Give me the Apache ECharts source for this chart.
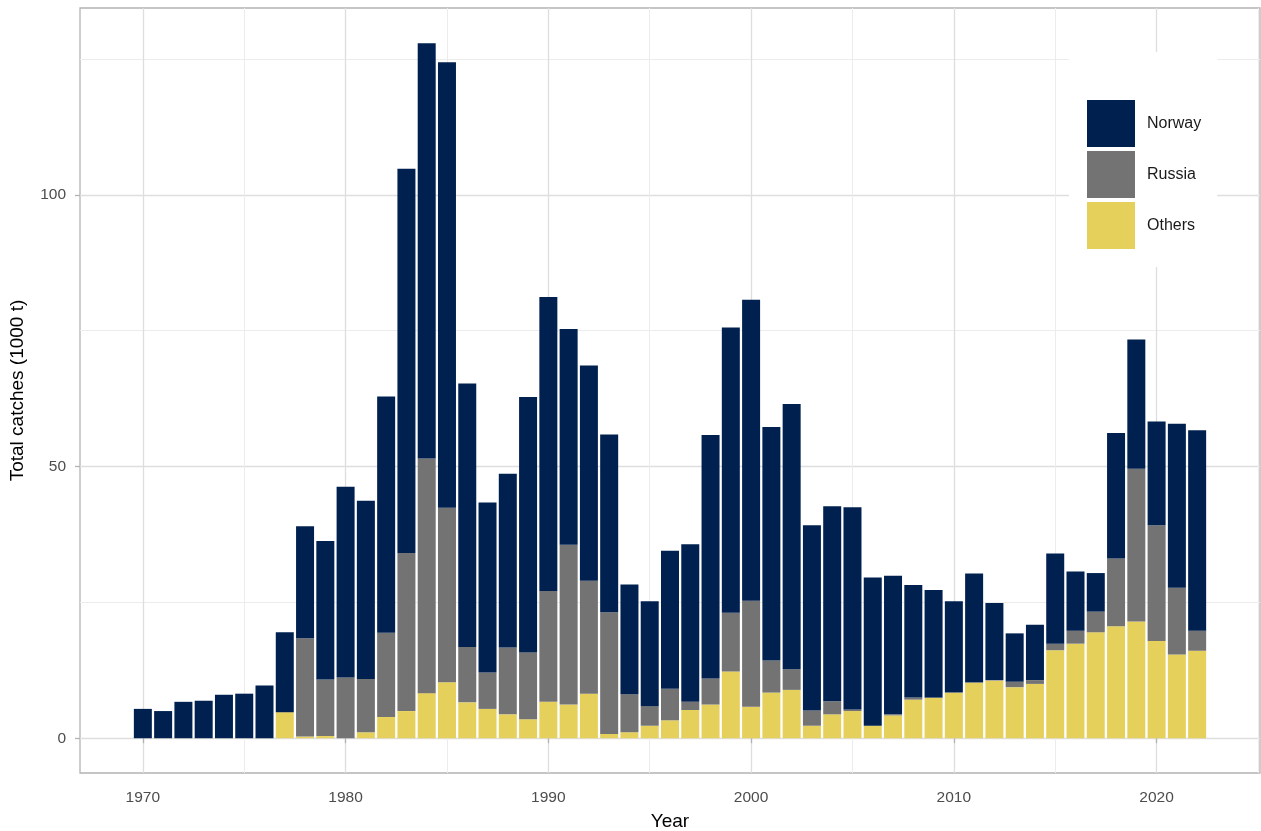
<!DOCTYPE html>
<html>
<head>
<meta charset="utf-8">
<script src="https://cdn.jsdelivr.net/npm/echarts@6/dist/echarts.min.js"></script>
<style>
  html, body { margin: 0; padding: 0; background: #fff; }
  #chart { width: 1261px; height: 831px; }
</style>
</head>
<body>
<div id="chart"></div>
<script>
const years = [1970, 1971, 1972, 1973, 1974, 1975, 1976, 1977, 1978, 1979,
  1980, 1981, 1982, 1983, 1984, 1985, 1986, 1987, 1988, 1989,
  1990, 1991, 1992, 1993, 1994, 1995, 1996, 1997, 1998, 1999,
  2000, 2001, 2002, 2003, 2004, 2005, 2006, 2007, 2008, 2009,
  2010, 2011, 2012, 2013, 2014, 2015, 2016, 2017, 2018, 2019,
  2020, 2021, 2022];

const norway = [5.4, 5.0, 6.7, 6.9, 8.0, 8.2, 9.7, 14.7, 20.6, 25.5,
  35.1, 32.8, 43.5, 70.7, 76.4, 82.0, 48.5, 31.3, 32.0, 47.0,
  54.1, 39.7, 39.6, 32.7, 20.2, 19.3, 25.4, 29.0, 44.8, 52.5,
  55.4, 43.0, 48.8, 34.1, 35.9, 37.2, 27.3, 25.5, 20.7, 19.8,
  16.8, 20.0, 14.2, 8.9, 10.2, 16.6, 10.9, 7.1, 23.1, 23.8,
  19.1, 30.2, 36.9];

const russia = [0, 0, 0, 0, 0, 0, 0, 0, 18.1, 10.4,
  11.2, 9.8, 15.5, 29.1, 43.2, 32.1, 10.2, 6.7, 12.3, 12.3,
  20.4, 29.4, 20.8, 22.4, 7.0, 3.6, 5.8, 1.5, 4.8, 10.8,
  19.5, 5.9, 3.8, 2.8, 2.4, 0.3, 0, 0.2, 0.4, 0.1,
  0, 0.1, 0.1, 1.0, 0.7, 1.2, 2.4, 3.8, 12.5, 28.1,
  21.3, 12.3, 3.7];

const others = [0, 0, 0, 0, 0, 0, 0, 4.8, 0.3, 0.4,
  0, 1.1, 3.9, 5.0, 8.3, 10.3, 6.6, 5.4, 4.4, 3.5,
  6.7, 6.2, 8.2, 0.8, 1.1, 2.3, 3.3, 5.2, 6.2, 12.3,
  5.8, 8.4, 8.9, 2.3, 4.4, 5.0, 2.3, 4.2, 7.1, 7.4,
  8.4, 10.2, 10.6, 9.4, 10.0, 16.2, 17.4, 19.5, 20.6, 21.5,
  17.9, 15.4, 16.1];

const xMajorTicks = [1970, 1980, 1990, 2000, 2010, 2020];
const xMinorTicks = [1975, 1985, 1995, 2005, 2015, 2025];
const yMajorTicks = [0, 50, 100];
const yMinorTicks = [25, 75, 125];

const FONT = 'Liberation Sans, Arial, sans-serif';
const colors = { Norway: '#00214f', Russia: '#737373', Others: '#e6d05c' };

// value first so the stack runs on the y dimension
const toPairs = (vals) => years.map((y, i) => [vals[i], y]);

const chart = echarts.init(document.getElementById('chart'));

const xRange = { min: 1966.9, max: 2025.1 };
const yRange = { min: -6.4, max: 134.4 };

const option = {
  animation: false,
  textStyle: { fontFamily: FONT },
  grid: {
    left: 80, right: 1, top: 8, bottom: 58,
    outerBoundsMode: 'none',
    show: true, borderColor: '#b3b3b3', borderWidth: 1.3,
    backgroundColor: 'transparent'
  },
  legend: {
    data: ['Norway', 'Russia', 'Others'],
    orient: 'vertical',
    left: 1069, top: 52,
    padding: [48, 16, 18, 18],
    backgroundColor: '#ffffff',
    icon: 'rect',
    itemWidth: 48, itemHeight: 47, itemGap: 4,
    textStyle: { fontSize: 16, color: '#1a1a1a', fontFamily: FONT, padding: [0, 0, 0, 7] }
  },
  xAxis: [
    Object.assign({
      type: 'value',
      name: 'Year',
      nameLocation: 'middle',
      nameGap: 39,
      nameTextStyle: { fontSize: 19, color: '#000', fontFamily: FONT, verticalAlign: 'top' },
      axisLine: { show: false },
      axisTick: { show: true, length: 5, customValues: xMajorTicks, lineStyle: { color: '#b3b3b3', width: 1.3 } },
      axisLabel: { customValues: xMajorTicks, formatter: v => String(v), fontSize: 15.5, color: '#4d4d4d', margin: 17, fontFamily: FONT },
      splitLine: { show: true, lineStyle: { color: '#dedede', width: 1.3 } }
    }, xRange),
    Object.assign({
      type: 'value',
      axisLine: { show: false },
      axisTick: { show: false, customValues: xMinorTicks },
      axisLabel: { show: false, customValues: xMinorTicks },
      splitLine: { show: true, lineStyle: { color: '#ececec', width: 1 } }
    }, xRange)
  ],
  yAxis: [
    Object.assign({
      type: 'value',
      name: 'Total catches (1000 t)',
      nameLocation: 'middle',
      nameGap: 53,
      nameTextStyle: { fontSize: 19, color: '#000', fontFamily: FONT },
      axisLine: { show: false },
      axisTick: { show: true, length: 5, customValues: yMajorTicks, lineStyle: { color: '#b3b3b3', width: 1.3 } },
      axisLabel: { customValues: yMajorTicks, fontSize: 15.5, color: '#4d4d4d', margin: 14, fontFamily: FONT },
      splitLine: { show: true, lineStyle: { color: '#dedede', width: 1.3 } }
    }, yRange),
    Object.assign({
      type: 'value',
      axisLine: { show: false },
      axisTick: { show: false, customValues: yMinorTicks },
      axisLabel: { show: false, customValues: yMinorTicks },
      splitLine: { show: true, lineStyle: { color: '#ececec', width: 1 } }
    }, yRange)
  ],
  series: [
    { name: 'Others', data: toPairs(others) },
    { name: 'Russia', data: toPairs(russia) },
    { name: 'Norway', data: toPairs(norway) }
  ].map(s => ({
    name: s.name,
    type: 'bar',
    stack: 'total',
    data: s.data,
    encode: { x: 1, y: 0 },
    barWidth: 18,
    itemStyle: { color: colors[s.name] }
  }))
};

chart.setOption(option);
</script>
</body>
</html>
